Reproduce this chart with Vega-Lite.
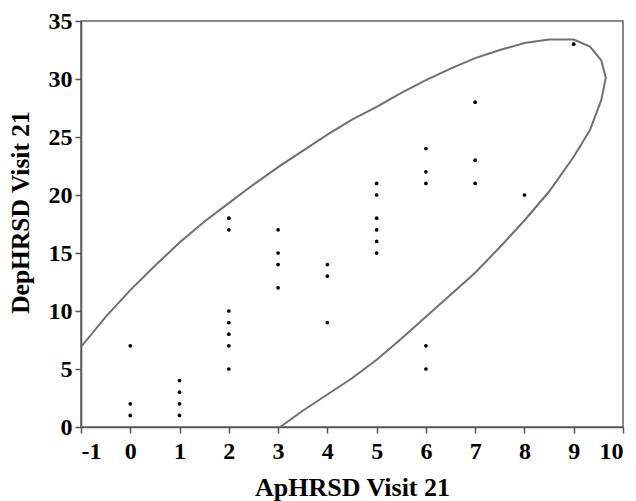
{
  "$schema": "https://vega.github.io/schema/vega-lite/v6.json",
  "width": 542,
  "height": 406,
  "autosize": "none",
  "padding": {"left": 81, "top": 21, "right": 13, "bottom": 74},
  "background": "white",
  "config": {
    "view": {"stroke": "#666666", "strokeWidth": 1.5},
    "axis": {
      "grid": false,
      "labelFont": "Liberation Serif",
      "labelFontWeight": "bold",
      "labelFontSize": 24,
      "labelColor": "black",
      "titleFont": "Liberation Serif",
      "titleFontWeight": "bold",
      "titleFontSize": 26,
      "titleColor": "black",
      "domainColor": "#555555",
      "domainWidth": 1.5,
      "tickColor": "#555555",
      "tickWidth": 1.5,
      "tickSize": 6,
      "labelPadding": 3
    }
  },
  "datasets": {
    "pts": [
      {"x": 0, "y": 7}, {"x": 0, "y": 2}, {"x": 0, "y": 1},
      {"x": 1, "y": 4}, {"x": 1, "y": 3}, {"x": 1, "y": 2}, {"x": 1, "y": 1},
      {"x": 2, "y": 18}, {"x": 2, "y": 17}, {"x": 2, "y": 10}, {"x": 2, "y": 9}, {"x": 2, "y": 8}, {"x": 2, "y": 7}, {"x": 2, "y": 5},
      {"x": 3, "y": 17}, {"x": 3, "y": 15}, {"x": 3, "y": 14}, {"x": 3, "y": 12},
      {"x": 4, "y": 14}, {"x": 4, "y": 13}, {"x": 4, "y": 9},
      {"x": 5, "y": 21}, {"x": 5, "y": 20}, {"x": 5, "y": 18}, {"x": 5, "y": 17}, {"x": 5, "y": 16}, {"x": 5, "y": 15},
      {"x": 6, "y": 24}, {"x": 6, "y": 22}, {"x": 6, "y": 21}, {"x": 6, "y": 7}, {"x": 6, "y": 5},
      {"x": 7, "y": 28}, {"x": 7, "y": 23}, {"x": 7, "y": 21},
      {"x": 8, "y": 20},
      {"x": 9, "y": 33}
    ],
    "ell": [
      {"i": 1, "x": -1, "y": 6.9}, {"i": 2, "x": -0.5, "y": 9.5}, {"i": 3, "x": 0, "y": 11.8},
      {"i": 4, "x": 0.5, "y": 13.9}, {"i": 5, "x": 1, "y": 15.9}, {"i": 6, "x": 1.5, "y": 17.7},
      {"i": 7, "x": 2, "y": 19.3}, {"i": 8, "x": 2.5, "y": 20.9}, {"i": 9, "x": 3, "y": 22.4},
      {"i": 10, "x": 3.5, "y": 23.8}, {"i": 11, "x": 4, "y": 25.2}, {"i": 12, "x": 4.5, "y": 26.5},
      {"i": 13, "x": 5, "y": 27.6}, {"i": 14, "x": 5.5, "y": 28.8}, {"i": 15, "x": 6, "y": 29.9},
      {"i": 16, "x": 6.5, "y": 30.9}, {"i": 17, "x": 7, "y": 31.8}, {"i": 18, "x": 7.5, "y": 32.5},
      {"i": 19, "x": 8, "y": 33.1}, {"i": 20, "x": 8.5, "y": 33.4}, {"i": 21, "x": 9, "y": 33.4},
      {"i": 22, "x": 9.33, "y": 32.8}, {"i": 23, "x": 9.56, "y": 31.6}, {"i": 24, "x": 9.65, "y": 30.1},
      {"i": 25, "x": 9.56, "y": 28.2}, {"i": 26, "x": 9.33, "y": 25.6}, {"i": 27, "x": 9, "y": 23.3},
      {"i": 28, "x": 8.5, "y": 20.3}, {"i": 29, "x": 8, "y": 17.8}, {"i": 30, "x": 7.5, "y": 15.5},
      {"i": 31, "x": 7, "y": 13.3}, {"i": 32, "x": 6.5, "y": 11.4}, {"i": 33, "x": 6, "y": 9.5},
      {"i": 34, "x": 5.5, "y": 7.6}, {"i": 35, "x": 5, "y": 5.8}, {"i": 36, "x": 4.5, "y": 4.2},
      {"i": 37, "x": 4, "y": 2.8}, {"i": 38, "x": 3.5, "y": 1.4}, {"i": 39, "x": 3.04, "y": 0}
    ]
  },
  "layer": [
    {
      "data": {"name": "ell"},
      "mark": {"type": "line", "color": "#707070", "strokeWidth": 2, "clip": true},
      "encoding": {
        "x": {"field": "x", "type": "quantitative", "scale": {"domain": [-1, 10], "nice": false, "zero": false},
              "axis": {"values": [-1,0,1,2,3,4,5,6,7,8,9,10], "labelExpr": "replace(datum.label, '−', '-')", "labelPadding": 6, "title": "ApHRSD Visit 21", "titlePadding": 11}},
        "y": {"field": "y", "type": "quantitative", "scale": {"domain": [0, 35], "nice": false},
              "axis": {"values": [0,5,10,15,20,25,30,35], "title": "DepHRSD Visit 21", "titleFontSize": 25.5, "titleX": -61, "titleY": 191, "titleBaseline": "middle", "titleAngle": -90}},
        "order": {"field": "i", "type": "quantitative"}
      }
    },
    {
      "data": {"name": "pts"},
      "mark": {"type": "circle", "color": "black", "size": 14, "opacity": 1},
      "encoding": {
        "x": {"field": "x", "type": "quantitative"},
        "y": {"field": "y", "type": "quantitative"}
      }
    }
  ]
}
